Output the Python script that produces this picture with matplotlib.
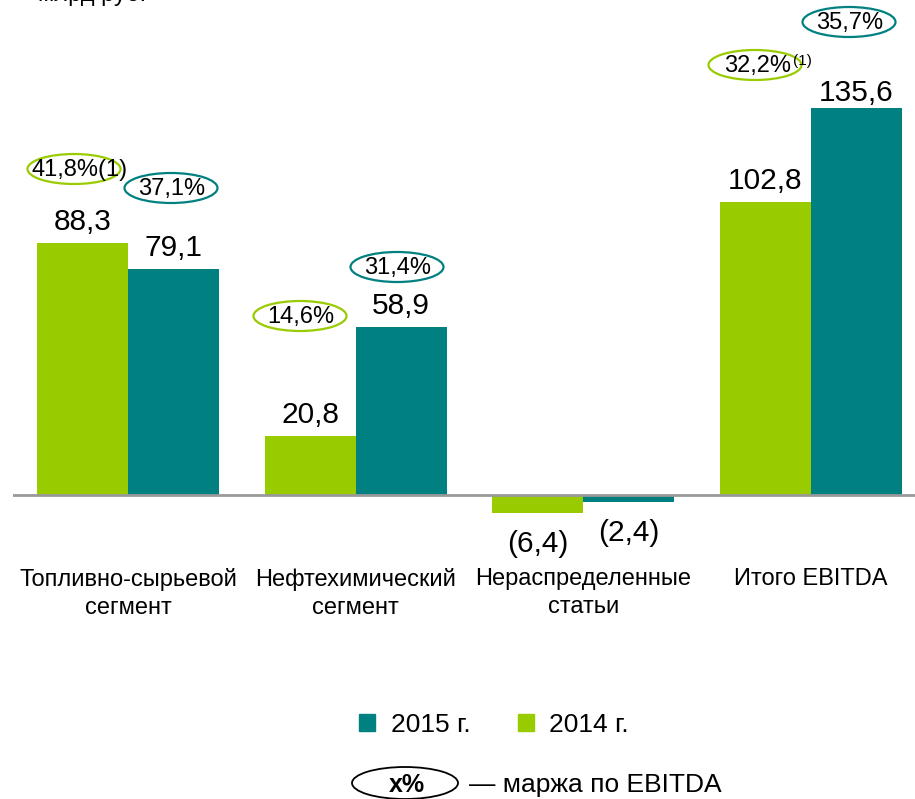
import matplotlib
matplotlib.use("Agg")
import matplotlib.pyplot as plt
from matplotlib.patches import Ellipse, Patch
import numpy as np

plt.rcParams['font.family'] = ['Liberation Sans', 'DejaVu Sans']

# Data
categories = ['Топливно-сырьевой\nсегмент', 'Нефтехимический\nсегмент',
              'Нераспределенные\nстатьи', 'Итого EBITDA']
ebitda_2014 = [88.3, 20.8, -6.4, 102.8]
ebitda_2015 = [79.1, 58.9, -2.4, 135.6]
margin_2014 = ['41,8%', '14,6%', None, '32,2%']
margin_2015 = ['37,1%', '31,4%', None, '35,7%']
margin_note_2014 = ['(1)', '', None, '(1)']

green = '#99CC00'
teal = '#008080'

# pixel -> data helpers (layout only)
W, H = 915, 799
X0PX, XSCALE = 128, 227.67
Y0PX, YSCALE = 495, 2.854


def xd(px):
    return (px - X0PX) / XSCALE


def yd(py):
    return (Y0PX - py) / YSCALE


fig = plt.figure(figsize=(W / 100, H / 100), dpi=100)
ax = fig.add_axes([13 / W, 0, (W - 13) / W, 1])
ax.set_xlim(xd(13), xd(W))
ax.set_ylim(yd(H), yd(0))
ax.axis('off')

x = np.arange(len(categories))
bw = 0.4
ax.bar(x - bw / 2, ebitda_2014, bw, color=green)
ax.bar(x + bw / 2, ebitda_2015, bw, color=teal)
ax.axhline(0, color='#999999', lw=2)


def fmt(v):
    s = f'{abs(v):.1f}'.replace('.', ',')
    return f'({s})' if v < 0 else s


for xs, vals in ((x - bw / 2, ebitda_2014), (x + bw / 2, ebitda_2015)):
    for xi, v in zip(xs, vals):
        if v >= 0:
            off = 1 if v > 120 else 5
            ax.annotate(fmt(v), (xi, v), xytext=(0, off), textcoords='offset points',
                        ha='center', va='bottom', fontsize=21.5)
        else:
            ax.annotate(fmt(v), (xi, v), xytext=(0, -12), textcoords='offset points',
                        ha='center', va='top', fontsize=21.5)

# category labels
for xi, c in zip(x, categories):
    ax.text(xi, yd(568), c, ha='center', va='top', fontsize=17, linespacing=1.38)

# margin ellipses (centres in px)
pos_2014 = [(74, 169), (300, 316), None, (755, 65)]
pos_2015 = [(171, 188), (397, 267), None, (849, 22)]
ell_w, ell_h = 93, 30
for pos, labels, color in ((pos_2014, margin_2014, green), (pos_2015, margin_2015, teal)):
    for i, (p, lab) in enumerate(zip(pos, labels)):
        if lab is None:
            continue
        cx, cy = p
        ax.add_patch(Ellipse((xd(cx), yd(cy)), ell_w / XSCALE, ell_h / YSCALE,
                             fill=False, edgecolor=color, lw=1.6))
        if color == green and margin_note_2014[i]:
            if i == 0:
                ax.text(xd(32), yd(cy + 1), lab + margin_note_2014[i], ha='left',
                        va='center', fontsize=17)
            else:
                ax.text(xd(cx + 3), yd(cy + 1), lab, ha='center', va='center',
                        fontsize=17)
                ax.text(xd(793), yd(cy - 4), margin_note_2014[i], ha='left',
                        va='center', fontsize=11)
        else:
            ax.text(xd(cx + 1), yd(cy + 1), lab, ha='center', va='center', fontsize=17)

# clipped unit label at top
ax.text(xd(38), yd(1), 'млрд руб.', ha='left', va='baseline', fontsize=17)

# legend
handles = [Patch(color=teal, label='2015 г.'), Patch(color=green, label='2014 г.')]
fig.legend(handles=handles, loc='center', bbox_to_anchor=(494 / W, 1 - 725 / H),
           ncol=2, frameon=False, fontsize=19, handlelength=0.6, handleheight=0.6,
           handletextpad=0.6, columnspacing=1.8)

# margin key
ax.add_patch(Ellipse((xd(405), yd(783)), 106 / XSCALE, 32 / YSCALE,
                     fill=False, edgecolor='black', lw=1.3))
ax.text(xd(407), yd(785), 'x%', ha='center', va='center', fontsize=18, fontweight='bold')
ax.text(xd(469), yd(785), '— маржа по EBITDA', ha='left', va='center', fontsize=19)

fig.savefig('out.png', dpi=100)
